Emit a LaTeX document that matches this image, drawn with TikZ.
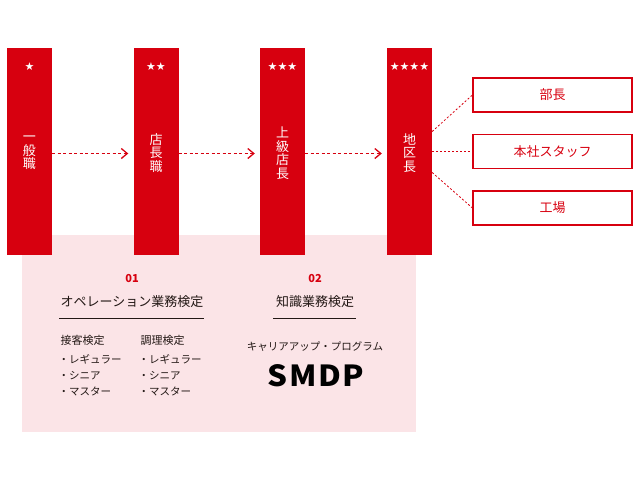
\documentclass[tikz,border=0pt]{standalone}
\usepackage{fontspec}
\setmainfont{Noto Sans CJK JP}
\newfontfamily\starfont{DejaVu Sans}
\usetikzlibrary{positioning}
\usetikzlibrary{arrows.meta}
\definecolor{rankred}{HTML}{D7000F}
\definecolor{panelpink}{HTML}{FBE4E7}
\definecolor{inkdark}{HTML}{231815}

\begin{document}
\begin{tikzpicture}[x = 1pt, y = -1pt,
    rankbar/.style = {fill = rankred, minimum width = 45pt, minimum height = 207pt, inner sep = 0pt},
    ranktext/.style = {text = white, align = center, font = \fontsize{13}{13.5}\selectfont},
    rankstars/.style = {text = white, font = \starfont\fontsize{11}{11}\selectfont},
    postbox/.style = {draw = rankred, line width = 1.2pt, text = rankred, minimum width = 159pt, minimum height = 34pt, font = \fontsize{13}{14}\selectfont},
    promote/.style = {draw = rankred, line width = 1.3pt, dash pattern = on 3pt off 2.5pt, -{Straight Barb[length = 6pt, width = 10pt]}, shorten > = 5pt},
    branch/.style = {draw = rankred, line width = 0.8pt, dash pattern = on 2pt off 2pt},
    heading/.style = {text = inkdark, font = \fontsize{13}{14}\selectfont},
    stepno/.style = {text = rankred, font = \bfseries\fontsize{11}{12}\selectfont},
    small/.style = {text = inkdark, font = \fontsize{10.5}{16}\selectfont, align = left}]
    \useasboundingbox (0,0) rectangle (640,480);

    \fill[panelpink] (22,235) rectangle (416,432);

    \node[rankbar](ippan) at (29.5,151.5) {};
    \node[rankbar](tencho) at (156,151.5) {};
    \node[rankbar](joukyu) at (282.5,151.5) {};
    \node[rankbar](chiku) at (409.5,151.5) {};

    \node[rankstars] at (29.5,67) {★};
    \node[rankstars] at (156,67) {★★};
    \node[rankstars] at (282.5,67) {★★★};
    \node[rankstars] at (409.5,67) {★★★★};

    \node[ranktext] at (29.5,153) {一\\般\\職};
    \node[ranktext] at (156,153) {店\\長\\職};
    \node[ranktext] at (282.5,153) {上\\級\\店\\長};
    \node[ranktext] at (409.5,153) {地\\区\\長};

    \draw[promote] ([yshift = -2pt]ippan.east) -- ([yshift = -2pt]tencho.west);
    \draw[promote] ([yshift = -2pt]tencho.east) -- ([yshift = -2pt]joukyu.west);
    \draw[promote] ([yshift = -2pt]joukyu.east) -- ([yshift = -2pt]chiku.west);

    \node[postbox](bucho) at (552.5,95) {部長};
    \node[postbox](honsha) at (552.5,151.5) {本社スタッフ};
    \node[postbox](koujou) at (552.5,208) {工場};

    \draw[branch] ([yshift = 20pt]chiku.east) -- (bucho.west);
    \draw[branch] (chiku.east) -- (honsha.west);
    \draw[branch] ([yshift = -21pt]chiku.east) -- (koujou.west);

    \node[stepno](opno) at (132,279) {01};
    \node[heading](optitle) at (132,302) {オペレーション業務検定};
    \draw[inkdark, line width = 0.6pt] (59,318) -- (204,318);
    \node[heading, font = \fontsize{11}{12}\selectfont, anchor = west](sekkyaku) at (57,340) {接客検定};
    \node[heading, font = \fontsize{11}{12}\selectfont, anchor = west](chouri) at (137,340) {調理検定};
    \node[small, anchor = north west](sekkyakulist) at (55,351) {・レギュラー\\・シニア\\・マスター};
    \node[small, anchor = north west](chourilist) at (135,351) {・レギュラー\\・シニア\\・マスター};

    \node[stepno](knno) at (315,279) {02};
    \node[heading](kntitle) at (315,302) {知識業務検定};
    \draw[inkdark, line width = 0.6pt] (273,318) -- (356,318);
    \node[heading, font = \fontsize{10.5}{12}\selectfont](career) at (315,347) {キャリアアップ・プログラム};
    \node[text = black, font = \bfseries\fontsize{29}{30}\selectfont\addfontfeatures{FakeStretch = 1.08, LetterSpace = 5}](smdp) at (316,376) {SMDP};
\end{tikzpicture}
\end{document}
